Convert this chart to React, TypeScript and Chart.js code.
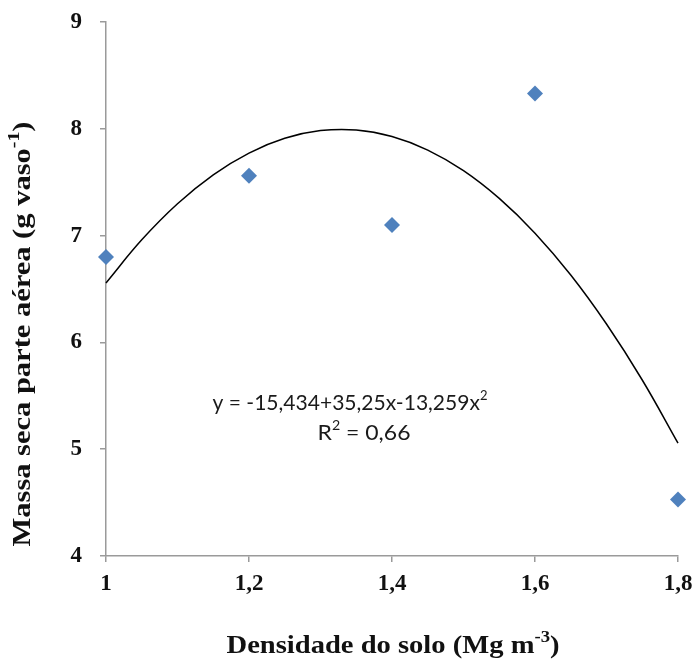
import React, { useEffect, useRef } from 'react';
import { Chart, registerables } from 'chart.js';

Chart.register(...registerables);

// Observed data
const densityValues = [1, 1.2, 1.4, 1.6, 1.8];
const massValues = [6.8, 7.56, 7.1, 8.33, 4.53];

// Trend line (y = -15,434+35,25x-13,259x²)
const curveX = [1, 1.05, 1.1, 1.15, 1.2, 1.25, 1.3, 1.35, 1.4, 1.45, 1.5, 1.55, 1.6, 1.65, 1.7, 1.75, 1.8];
const curveY = [6.557, 6.96, 7.298, 7.569, 7.773, 7.911, 7.983, 7.989, 7.928, 7.801, 7.608, 7.348, 7.023, 6.631, 6.172, 5.648, 5.057];

const xTickLabels = ['1', '1,2', '1,4', '1,6', '1,8'];
const yTickValues = [4, 5, 6, 7, 8, 9];

const equationText = 'y = -15,434+35,25x-13,259x';
const r2Text = ' = 0,66';
const xTitleMain = 'Densidade do solo (Mg m';
const xTitleSup = '-3';
const yTitleMain = 'Massa seca parte aérea (g vaso';
const yTitleSup = '-1';

const SERIF = "'Liberation Serif', 'Times New Roman', serif";
const SANS = "Lato, 'Open Sans', sans-serif";

type Part = { t: string; sup?: boolean };

function drawParts(
  ctx: CanvasRenderingContext2D,
  parts: Part[],
  cx: number,
  cy: number,
  font: (s: number) => string,
  size: number,
  supSize: number,
  targetWidth?: number
) {
  let total = 0;
  const widths = parts.map((p) => {
    ctx.font = font(p.sup ? supSize : size);
    const w = ctx.measureText(p.t).width;
    total += w;
    return w;
  });
  const sx = targetWidth ? targetWidth / total : 1;
  ctx.save();
  ctx.translate(cx, cy);
  ctx.scale(sx, 1);
  let x = -total / 2;
  ctx.textBaseline = 'middle';
  ctx.textAlign = 'left';
  parts.forEach((p, i) => {
    ctx.font = font(p.sup ? supSize : size);
    ctx.fillText(p.t, x, p.sup ? -size * 0.32 : 0);
    x += widths[i];
  });
  ctx.restore();
}

const textPlugin = {
  id: 'textPlugin',
  afterDraw(chart: any) {
    const ctx: CanvasRenderingContext2D = chart.ctx;
    ctx.save();
    ctx.fillStyle = '#111111';
    const serifBold = (s: number) => `bold ${s}px ${SERIF}`;
    const sans = (s: number) => `${s}px ${SANS}`;
    // X title
    drawParts(ctx, [{ t: xTitleMain }, { t: xTitleSup, sup: true }, { t: ')' }], 393, 646, serifBold, 26, 17, 333);
    // Y title
    ctx.save();
    ctx.translate(23, 334);
    ctx.rotate(-Math.PI / 2);
    drawParts(ctx, [{ t: yTitleMain }, { t: yTitleSup, sup: true }, { t: ')' }], 0, 0, serifBold, 26, 17, 425);
    ctx.restore();
    // Equation
    ctx.fillStyle = '#1a1a1a';
    drawParts(ctx, [{ t: equationText }, { t: '2', sup: true }], 350, 403, sans, 21, 13, 275);
    drawParts(ctx, [{ t: 'R' }, { t: '2', sup: true }, { t: r2Text }], 364, 433, sans, 21, 13, 93);
    ctx.restore();
  },
};

export default function App() {
  const ref = useRef<HTMLCanvasElement | null>(null);
  useEffect(() => {
    document.body.style.margin = '0';
    const canvas = ref.current;
    if (!canvas) return;
    const tickFont = { family: SERIF, weight: 'bold' as const, size: 23 };
    const chart = new Chart(canvas, {
      type: 'scatter',
      data: {
        datasets: [
          {
            type: 'line',
            data: curveX.map((x, i) => ({ x, y: curveY[i] })),
            borderColor: '#000000',
            borderWidth: 1.5,
            pointRadius: 0,
            tension: 0.4,
            fill: false,
            clip: false as any,
          },
          {
            type: 'scatter',
            data: densityValues.map((x, i) => ({ x, y: massValues[i] })),
            pointStyle: 'rectRot',
            pointRadius: 8,
            backgroundColor: '#4F81BD',
            borderColor: '#4F81BD',
            borderWidth: 0,
            clip: false as any,
          },
        ],
      },
      options: {
        animation: false,
        responsive: false,
        layout: { autoPadding: false, padding: { top: 22, right: 21, left: 0, bottom: 0 } },
        plugins: { legend: { display: false }, tooltip: { enabled: false } },
        scales: {
          x: {
            type: 'linear',
            min: 1,
            max: 1.8,
            afterBuildTicks: (scale: any) => {
              scale.ticks = densityValues.map((v) => ({ value: v }));
            },
            afterFit: (scale: any) => {
              scale.height = 110;
              scale.paddingLeft = 0;
              scale.paddingRight = 0;
            },
            grid: { drawOnChartArea: false, drawTicks: true, tickLength: 6, color: '#9a9a9a', lineWidth: 1.5 },
            border: { color: '#9a9a9a', width: 1.5 },
            ticks: {
              padding: 8,
              color: '#111111',
              font: tickFont,
              maxRotation: 0,
              callback: (_v: any, i: number) => xTickLabels[i],
            },
          },
          y: {
            type: 'linear',
            min: 4,
            max: 9,
            afterBuildTicks: (scale: any) => {
              scale.ticks = yTickValues.map((v) => ({ value: v }));
            },
            afterFit: (scale: any) => {
              scale.width = 106;
              scale.paddingTop = 0;
              scale.paddingBottom = 0;
            },
            grid: { drawOnChartArea: false, drawTicks: true, tickLength: 6, color: '#9a9a9a', lineWidth: 1.5 },
            border: { color: '#9a9a9a', width: 1.5 },
            ticks: {
              padding: 18,
              color: '#111111',
              font: tickFont,
              callback: (v: any) => String(v),
            },
          },
        },
      },
      plugins: [textPlugin],
    });
    return () => chart.destroy();
  }, []);
  return <canvas ref={ref} width={699} height={666} style={{ display: 'block' }} />;
}
